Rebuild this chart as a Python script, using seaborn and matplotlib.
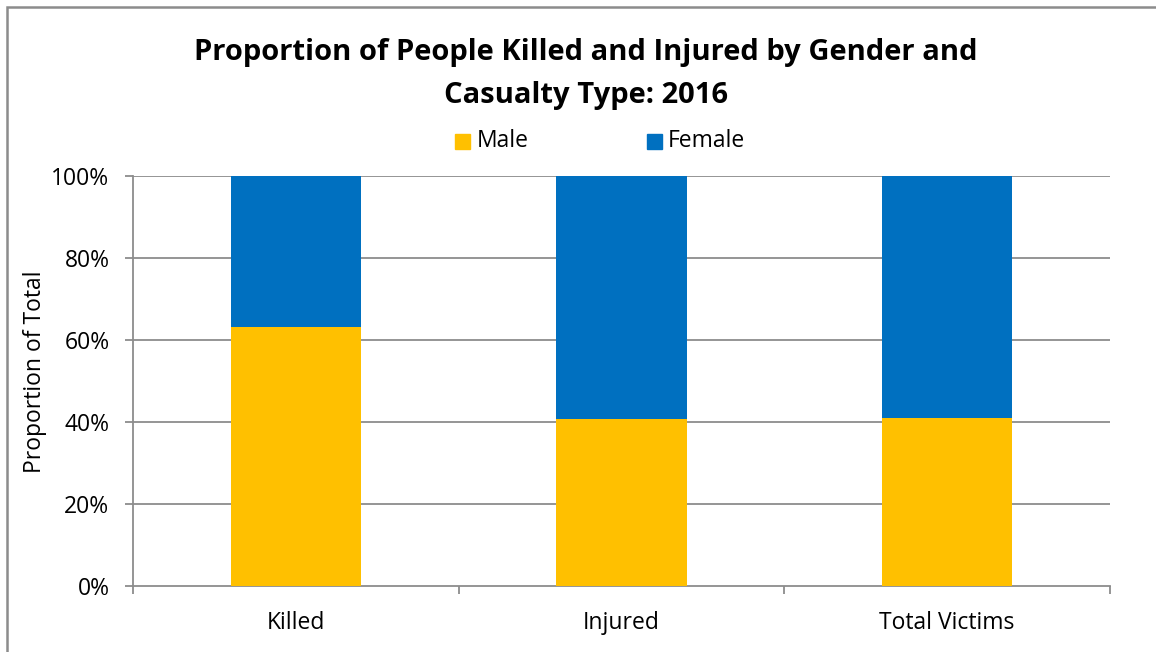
import matplotlib
matplotlib.use("Agg")
import matplotlib.pyplot as plt
import seaborn as sns
import pandas as pd
from matplotlib.patches import Rectangle

categories = ["Killed", "Injured", "Total Victims"]
male = [63.2, 40.7, 40.9]
female = [36.8, 59.3, 59.1]
yticks = [0, 20, 40, 60, 80, 100]
ytick_labels = ["0%", "20%", "40%", "60%", "80%", "100%"]

sns.set_theme(style="white")
plt.rcParams['font.family'] = ['Open Sans', 'DejaVu Sans']
plt.rcParams['text.color'] = 'black'

df = pd.DataFrame({"cat": categories, "male": male, "female": female})
df["total"] = df["male"] + df["female"]

fig = plt.figure(figsize=(11.56, 6.52), dpi=100)
ax = fig.add_axes([0.1151, 0.1012, 0.845, 0.629])

grid_c = "#8c8c8c"
for y in yticks[1:]:
    ax.axhline(y, color=grid_c, lw=1.3, zorder=0)

sns.barplot(data=df, x="cat", y="total", color="#0070C0", width=0.4,
            saturation=1, ax=ax, zorder=2, edgecolor="none")
sns.barplot(data=df, x="cat", y="male", color="#FFC000", width=0.4,
            saturation=1, ax=ax, zorder=3, edgecolor="none")

fs = 16.5
ax.set_xlim(-0.5, 2.5)
ax.set_ylim(0, 100)
ax.set_yticks(yticks)
ax.set_yticklabels(ytick_labels, fontsize=fs, color="#000000")
ax.set_xticks([0, 1, 2])
ax.set_xticklabels(categories, fontsize=fs, color="#000000")
ax.set_xlabel("")
ax.set_ylabel("Proportion of Total", fontsize=fs, color="#000000")
ax.yaxis.set_label_coords(-0.088, 0.522)

for s in ["top", "right"]:
    ax.spines[s].set_visible(False)
for s in ["left", "bottom"]:
    ax.spines[s].set_color(grid_c)
    ax.spines[s].set_linewidth(1.3)

ax.tick_params(axis="y", which="major", length=6, width=1.3, color=grid_c,
               left=True, pad=11)
ax.tick_params(axis="x", which="major", length=0, pad=18)
ax.set_xticks([-0.5, 0.5, 1.5, 2.5], minor=True)
ax.tick_params(axis="x", which="minor", length=6, width=1.3, color=grid_c,
               bottom=True, direction="out")

fig.text(0.507, 0.919, "Proportion of People Killed and Injured by Gender and",
         ha="center", va="center", fontsize=21, fontweight="bold", color="black")
fig.text(0.507, 0.854, "Casualty Type: 2016",
         ha="center", va="center", fontsize=21, fontweight="bold", color="black")

# legend
fig.patches.append(Rectangle((455/1156, 1 - 149/652), 15/1156, 15/652,
                             transform=fig.transFigure, color="#FFC000"))
fig.text(477/1156, 1 - 141/652, "Male", ha="left", va="center", fontsize=fs, color="black")
fig.patches.append(Rectangle((647/1156, 1 - 149/652), 15/1156, 15/652,
                             transform=fig.transFigure, color="#0070C0"))
fig.text(668/1156, 1 - 141/652, "Female", ha="left", va="center", fontsize=fs, color="black")

# outer border (only top and left visible in the crop)
fig.patches.append(Rectangle((7/1156, -0.05), 1.2, 1 - 7/652 + 0.05,
                             transform=fig.transFigure, fill=False,
                             edgecolor="#8c8c8c", lw=1.8))

fig.savefig("out.png", dpi=100)
